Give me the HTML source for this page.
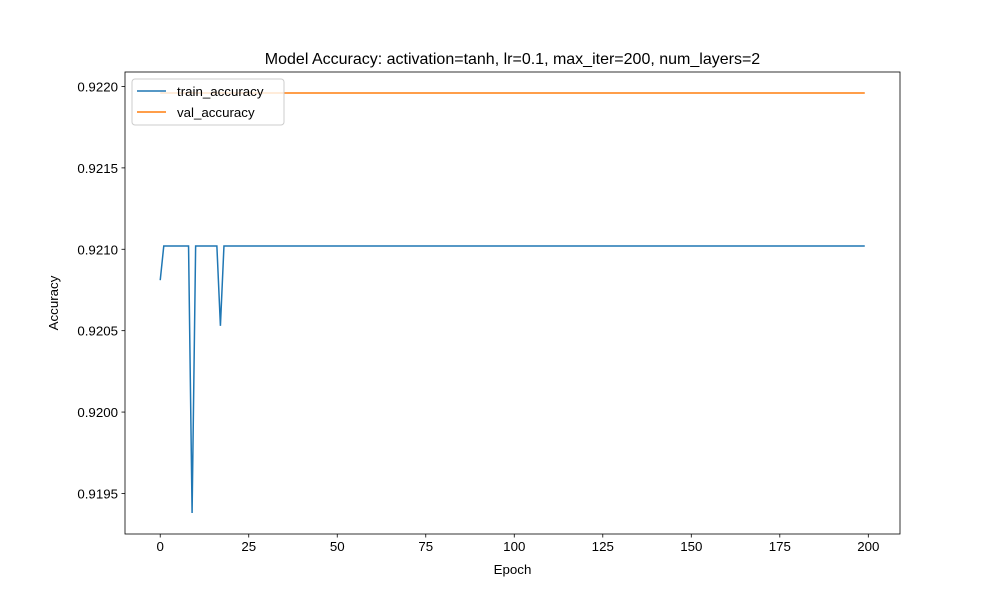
<!DOCTYPE html>
<html><head><meta charset="utf-8"><style>
body{margin:0;background:#fff}
text{font-family:"Liberation Sans","DejaVu Sans",sans-serif;fill:#000}
</style></head><body>
<svg id="chart" width="1000" height="600" xmlns="http://www.w3.org/2000/svg">
<rect width="1000" height="600" fill="#fff"/>
<g id="plot"></g>
</svg>
<script>
const valValue = 0.92196;
const dipEpochs = [0, 9, 17];
const dipValues = [0.92081, 0.91938, 0.92053];
const plateauValue = 0.92102;
const nEpochs = 200;
const xTicks = [0, 25, 50, 75, 100, 125, 150, 175, 200];
const yTicks = [0.9195, 0.9200, 0.9205, 0.9210, 0.9215, 0.9220];

const train = [];
for (let i = 0; i < nEpochs; i++) {
  const k = dipEpochs.indexOf(i);
  train.push(k >= 0 ? dipValues[k] : plateauValue);
}
const val = new Array(nEpochs).fill(valValue);

const L = 125, R = 900, T = 72, B = 534;
const xmin = -0.05 * (nEpochs - 1), xmax = (nEpochs - 1) * 1.05;
const all = train.concat(val);
const dmin = Math.min(...all), dmax = Math.max(...all), m = (dmax - dmin) * 0.05;
const ymin = dmin - m, ymax = dmax + m;
const X = v => L + (v - xmin) / (xmax - xmin) * (R - L);
const Y = v => B - (v - ymin) / (ymax - ymin) * (B - T);

const NS = "http://www.w3.org/2000/svg";
const g = document.getElementById('plot');
function mk(tag, attrs, parent) {
  const e = document.createElementNS(NS, tag);
  for (const k in attrs) e.setAttribute(k, attrs[k]);
  (parent || g).appendChild(e);
  return e;
}

const clip = mk('clipPath', {id: 'c'});
mk('rect', {x: L, y: T, width: R - L, height: B - T}, clip);

function line(data, color, name) {
  const p = mk('polyline', {points: data.map((v, i) => X(i) + ',' + Y(v)).join(' '), fill: 'none', stroke: color, 'stroke-width': 1.5, 'clip-path': 'url(#c)'});
  
  
}
line(train, '#1f77b4', 'train-accuracy-line');
line(val, '#ff7f0e', 'val-accuracy-line');

const frame = mk('rect', {x: L, y: T, width: R - L, height: B - T, fill: 'none', stroke: '#000', 'stroke-width': 0.8});



xTicks.forEach(t => {
  const x = X(t);
  mk('line', {x1: x, x2: x, y1: B, y2: B + 3.5, stroke: '#000', 'stroke-width': 0.8});
  const tx = mk('text', {x: x, y: B + 17, 'font-size': 13.3, 'text-anchor': 'middle'});
  tx.textContent = t;
  
  
});
yTicks.forEach(t => {
  const y = Y(t);
  mk('line', {x1: L, x2: L - 3.5, y1: y, y2: y, stroke: '#000', 'stroke-width': 0.8});
  const tx = mk('text', {x: L - 7, y: y + 5, 'font-size': 13.3, 'text-anchor': 'end'});
  tx.textContent = t.toFixed(4);
  
  
});

const title = mk('text', {x: (L + R) / 2, y: 64, 'font-size': 16, 'text-anchor': 'middle'});
title.textContent = 'Model Accuracy: activation=tanh, lr=0.1, max_iter=200, num_layers=2';



const xl = mk('text', {x: (L + R) / 2, y: 574, 'font-size': 13.3, 'text-anchor': 'middle'});
xl.textContent = 'Epoch';



const yl = mk('text', {x: 58, y: (T + B) / 2, 'font-size': 13.3, 'text-anchor': 'middle', transform: 'rotate(-90 58 ' + (T + B) / 2 + ')'});
yl.textContent = 'Accuracy';



const leg = mk('g', {});


mk('rect', {x: 132, y: 79, width: 152, height: 46, rx: 3, fill: '#fff', 'fill-opacity': 0.8, stroke: '#ccc', 'stroke-width': 1}, leg);
[['train_accuracy', '#1f77b4', 91], ['val_accuracy', '#ff7f0e', 112]].forEach(([n, c, y]) => {
  const e = mk('g', {}, leg);
  
  
  mk('line', {x1: 137, x2: 166, y1: y, y2: y, stroke: c, 'stroke-width': 1.5}, e);
  const t = mk('text', {x: 177, y: y + 5, 'font-size': 13.3}, e);
  t.textContent = n;
});
</script>
</body></html>
